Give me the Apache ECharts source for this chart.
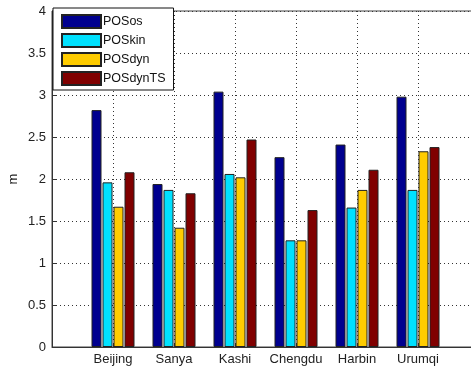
<!DOCTYPE html>
<html>
<head>
<meta charset="utf-8">
<script src="https://cdn.jsdelivr.net/npm/echarts@6/dist/echarts.min.js"></script>
<style>
  html, body { margin: 0; padding: 0; background: #fff; overflow: hidden; }
  #chart { width: 471px; height: 370px; }
</style>
</head>
<body>
<div id="chart"></div>
<script>
// Stations along the x axis (placed at positions 1..6)
const stations = ['Beijing', 'Sanya', 'Kashi', 'Chengdu', 'Harbin', 'Urumqi'];

// Positioning error per method, metres
const posOs     = [2.82, 1.94, 3.04, 2.26, 2.41, 2.98];
const posKin    = [1.96, 1.87, 2.06, 1.27, 1.66, 1.87];
const posDyn    = [1.67, 1.42, 2.02, 1.27, 1.87, 2.33];
const posDynTS  = [2.08, 1.83, 2.47, 1.63, 2.11, 2.38];

const seriesNames = ['POSos', 'POSkin', 'POSdyn', 'POSdynTS'];
const seriesColors = ['#00008f', '#00e1ff', '#ffcc00', '#800000'];
const seriesValues = [posOs, posKin, posDyn, posDynTS];

const font = 'Liberation Sans, Arial, sans-serif';
const dotted = { type: [1, 3], color: '#333', width: 1 };

const chart = echarts.init(document.getElementById('chart'), null, { renderer: 'canvas' });

chart.setOption({
  animation: false,
  backgroundColor: '#fff',
  textStyle: { fontFamily: font },
  // the axes box runs a little past the right edge of the canvas
  grid: {
    left: 52, width: 427, top: 11, bottom: 23,
    outerBoundsMode: 'none', containLabel: false,
    show: true, borderColor: '#444', borderWidth: 1, backgroundColor: 'transparent'
  },
  legend: {
    orient: 'vertical',
    left: 53, top: 8,
    data: seriesNames,
    itemWidth: 39, itemHeight: 13, itemGap: 4,
    padding: [6, 8, 4, 8],
    borderColor: '#111', borderWidth: 1, backgroundColor: '#fff',
    icon: 'rect',
    textStyle: { fontSize: 12.5, lineHeight: 13, color: '#111', fontFamily: font, padding: [0, 0, 0, -3] }
  },
  xAxis: {
    type: 'value', min: 0, max: 7, interval: 1,
    axisLine: { show: true, lineStyle: { color: '#333' } },
    axisTick: { show: true, inside: true, length: 4, lineStyle: { color: '#333' } },
    axisLabel: {
      fontSize: 13, color: '#222', margin: 6, fontFamily: font,
      formatter: v => stations[v - 1] || ''
    },
    splitLine: { show: true, lineStyle: dotted }
  },
  yAxis: {
    type: 'value', min: 0, max: 4, interval: 0.5,
    name: 'm', nameLocation: 'middle', nameGap: 32, nameRotate: 90,
    nameMoveOverlap: false,
    nameTextStyle: { fontSize: 13, color: '#222', fontFamily: font },
    axisLine: { show: true, lineStyle: { color: '#333' } },
    axisTick: { show: true, inside: true, length: 4, lineStyle: { color: '#333' } },
    axisLabel: { fontSize: 13, color: '#222', margin: 6, fontFamily: font },
    splitLine: { show: true, lineStyle: dotted }
  },
  series: seriesNames.map((name, k) => ({
    name,
    type: 'bar',
    barWidth: 10,
    barGap: '10%',
    data: seriesValues[k].map((v, i) => [i + 1, v]),
    itemStyle: { color: seriesColors[k], borderColor: '#222', borderWidth: 1 }
  }))
});
</script>
</body>
</html>
